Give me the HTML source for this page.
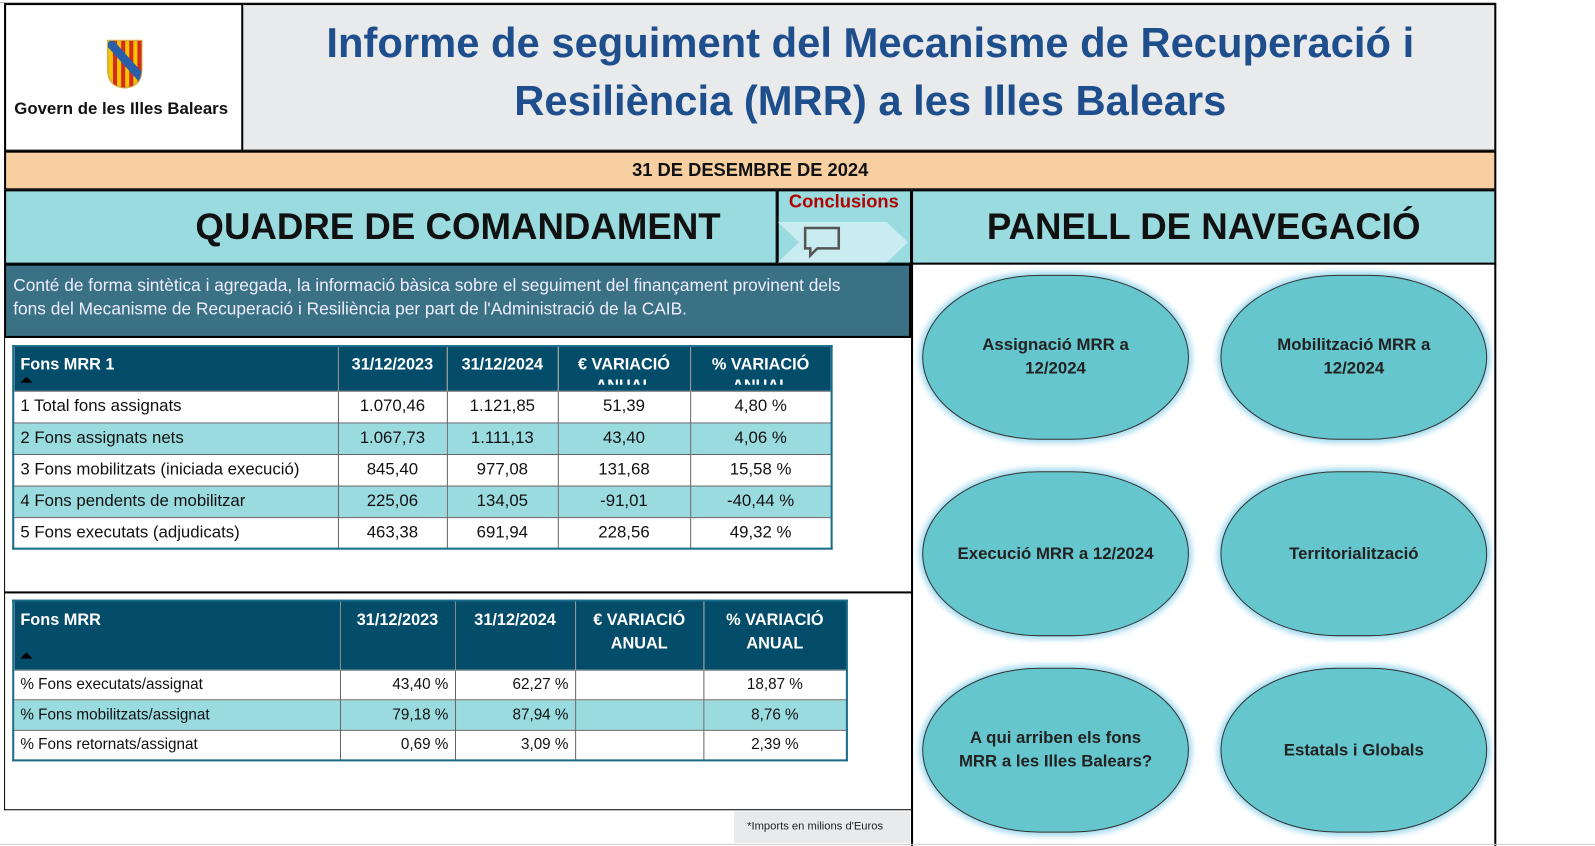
<!DOCTYPE html>
<html><head><meta charset="utf-8"><style>
*{margin:0;padding:0;box-sizing:border-box}
html,body{width:1595px;height:845px;overflow:hidden;background:#fff;font-family:"Liberation Sans",sans-serif}
#w{position:absolute;left:0;top:0;width:1567px;height:830px;transform:scale(1.0179);transform-origin:0 0}
.a{position:absolute}
.c{display:flex;align-items:center;justify-content:center;text-align:center}
table{position:absolute;border-collapse:collapse;table-layout:fixed;font-size:16.5px;color:#111}
td,th{border:1px solid #666;padding:0 6px;white-space:nowrap;overflow:hidden}
th{background:#034d6a;color:#fff;font-weight:bold;text-align:center;vertical-align:top;border-color:#888}
th.l{text-align:left}
tr.b td{background:#9adbe0}
td.r{text-align:right}td.m{text-align:center}
.t1 th{font-size:16px;height:44px;padding-top:7px;line-height:21px}
.t1 th div.h{height:30px;overflow:hidden;white-space:normal}
.t1 td{height:31px}
.t2 th{font-size:16px;height:68px;padding-top:7px;line-height:23px}
.t2 td{height:29.5px;font-size:15px}
.ov{width:262px;height:162px;border:1.5px solid #333;border-radius:115px/81px;background:#66c6cd;box-shadow:0 0 6px 3px #9fd9ee;font-weight:bold;font-size:16.5px;color:#222;line-height:23px;padding:0 20px}
</style></head><body><div id="w">
<div class="a" style="left:0;top:2px;width:1470px;height:1px;background:#bbb"></div>
<div class="a" style="left:4px;top:3px;width:1466px;height:146px;border:2px solid #000;background:#e9eaec"></div>
<div class="a" style="left:4px;top:3px;width:235px;height:146px;border:2px solid #000;background:#fff"></div>
<svg class="a" style="left:104px;top:38px" width="37" height="50" viewBox="0 0 37 50"><defs><clipPath id="s"><path d="M2 2H35V30Q35 47 18.5 48Q2 47 2 30Z"/></clipPath></defs><path d="M2 2H35V30Q35 47 18.5 48Q2 47 2 30Z" fill="#f5c400" stroke="#d9b340" stroke-width="2"/><g clip-path="url(#s)"><rect x="7" y="0" width="4" height="50" fill="#d52b1e"/><rect x="15" y="0" width="4" height="50" fill="#d52b1e"/><rect x="23" y="0" width="4" height="50" fill="#d52b1e"/><rect x="31" y="0" width="4" height="50" fill="#d52b1e"/><path d="M0 6L6 0L40 38L34 44Z" fill="#2a5ea8"/></g></svg>
<div class="a" style="left:14px;top:98px;font-weight:bold;font-size:16.5px;color:#111">Govern de les Illes Balears</div>
<div class="a c" style="left:240px;top:12px;width:1230px;height:118px;font-size:41px;font-weight:bold;color:#1f4e8c;line-height:57px">Informe de seguiment del Mecanisme de Recuperació i<br>Resiliència (MRR) a les Illes Balears</div>
<div class="a c" style="left:4px;top:148px;width:1466px;height:39px;background:#f7cfa0;border:2px solid #000;font-weight:bold;font-size:18px;color:#111">31 DE DESEMBRE DE 2024</div>
<div class="a" style="left:4px;top:186px;width:760px;height:74px;background:#9adbe0;border:2px solid #000"></div>
<div class="a c" style="left:150px;top:186px;width:600px;height:74px;font-weight:bold;font-size:36px;color:#111">QUADRE DE COMANDAMENT</div>
<div class="a" style="left:763px;top:186px;width:133px;height:74px;background:#9adbe0;border:2px solid #000"></div>
<div class="a" style="left:775px;top:188px;font-weight:bold;font-size:18px;color:#b00000">Conclusions</div>
<svg class="a" style="left:764px;top:218px" width="130" height="40"><path d="M0 0H107L128 20L107 40H0L21 20Z" fill="#c8ecef"/><path d="M27 6H60V26H39L32 33V26H27Z" fill="none" stroke="#555" stroke-width="2.5"/></svg>
<div class="a c" style="left:895px;top:186px;width:575px;height:74px;background:#9adbe0;border:2px solid #000;font-weight:bold;font-size:36px;color:#111">PANELL DE NAVEGACIÓ</div>
<div class="a" style="left:4px;top:259px;width:891px;height:73px;background:#3a7185;border:2px solid #000;color:#eef;font-size:17px;line-height:23px;padding:8px 7px 0 7px">Conté de forma sintètica i agregada, la informació bàsica sobre el seguiment del finançament provinent dels<br>fons del Mecanisme de Recuperació i Resiliència per part de l'Administració de la CAIB.</div>
<div class="a" style="left:4px;top:331px;width:892px;height:465px;border:1.5px solid #000;border-top:none"></div>
<div class="a" style="left:4px;top:581px;width:892px;height:1.5px;background:#000"></div>
<div class="a" style="left:895px;top:259px;width:575px;height:572px;border-left:2px solid #000;border-right:2px solid #000"></div>
<table class="t1" style="left:12px;top:339px;width:804px;border:2px solid #1a6a8a">
<colgroup><col style="width:319px"><col style="width:107px"><col style="width:109px"><col style="width:130px"><col style="width:139px"></colgroup>
<tr><th class="l">Fons MRR 1<div style="width:0;height:0;border:6px solid transparent;border-bottom-color:#000;border-top:none;margin-top:1px"></div></th><th>31/12/2023</th><th>31/12/2024</th><th><div class="h">€ VARIACIÓ ANUAL</div></th><th><div class="h">% VARIACIÓ ANUAL</div></th></tr>
<tr><td>1 Total fons assignats</td><td class="m">1.070,46</td><td class="m">1.121,85</td><td class="m">51,39</td><td class="m">4,80 %</td></tr>
<tr class="b"><td>2 Fons assignats nets</td><td class="m">1.067,73</td><td class="m">1.111,13</td><td class="m">43,40</td><td class="m">4,06 %</td></tr>
<tr><td>3 Fons mobilitzats (iniciada execució)</td><td class="m">845,40</td><td class="m">977,08</td><td class="m">131,68</td><td class="m">15,58 %</td></tr>
<tr class="b"><td>4 Fons pendents de mobilitzar</td><td class="m">225,06</td><td class="m">134,05</td><td class="m">-91,01</td><td class="m">-40,44 %</td></tr>
<tr><td>5 Fons executats (adjudicats)</td><td class="m">463,38</td><td class="m">691,94</td><td class="m">228,56</td><td class="m">49,32 %</td></tr>
</table>
<table class="t2" style="left:12px;top:589px;width:819px;border:2px solid #1a6a8a">
<colgroup><col style="width:321px"><col style="width:113px"><col style="width:118px"><col style="width:126px"><col style="width:141px"></colgroup>
<tr><th class="l">Fons MRR<div style="width:0;height:0;border:6px solid transparent;border-bottom-color:#000;border-top:none;margin-top:20px"></div></th><th>31/12/2023</th><th>31/12/2024</th><th>€ VARIACIÓ<br>ANUAL</th><th>% VARIACIÓ<br>ANUAL</th></tr>
<tr><td>% Fons executats/assignat</td><td class="r">43,40 %</td><td class="r">62,27 %</td><td></td><td class="m">18,87 %</td></tr>
<tr class="b"><td>% Fons mobilitzats/assignat</td><td class="r">79,18 %</td><td class="r">87,94 %</td><td></td><td class="m">8,76 %</td></tr>
<tr><td>% Fons retornats/assignat</td><td class="r">0,69 %</td><td class="r">3,09 %</td><td></td><td class="m">2,39 %</td></tr>
</table>
<div class="a" style="left:721px;top:797px;width:173px;height:31px;background:#e9eaec;font-size:11px;color:#222;padding:9px 0 0 13px">*Imports en milions d'Euros</div>
<div class="a c ov" style="left:906px;top:270px">Assignació MRR a<br>12/2024</div>
<div class="a c ov" style="left:1199px;top:270px">Mobilització MRR a<br>12/2024</div>
<div class="a c ov" style="left:906px;top:463px">Execució MRR a 12/2024</div>
<div class="a c ov" style="left:1199px;top:463px">Territorialització</div>
<div class="a c ov" style="left:906px;top:656px">A qui arriben els fons<br>MRR a les Illes Balears?</div>
<div class="a c ov" style="left:1199px;top:656px">Estatals i Globals</div>
<div class="a" style="left:0;top:829px;width:1567px;height:1px;background:#ccc"></div>
</div></body></html>
